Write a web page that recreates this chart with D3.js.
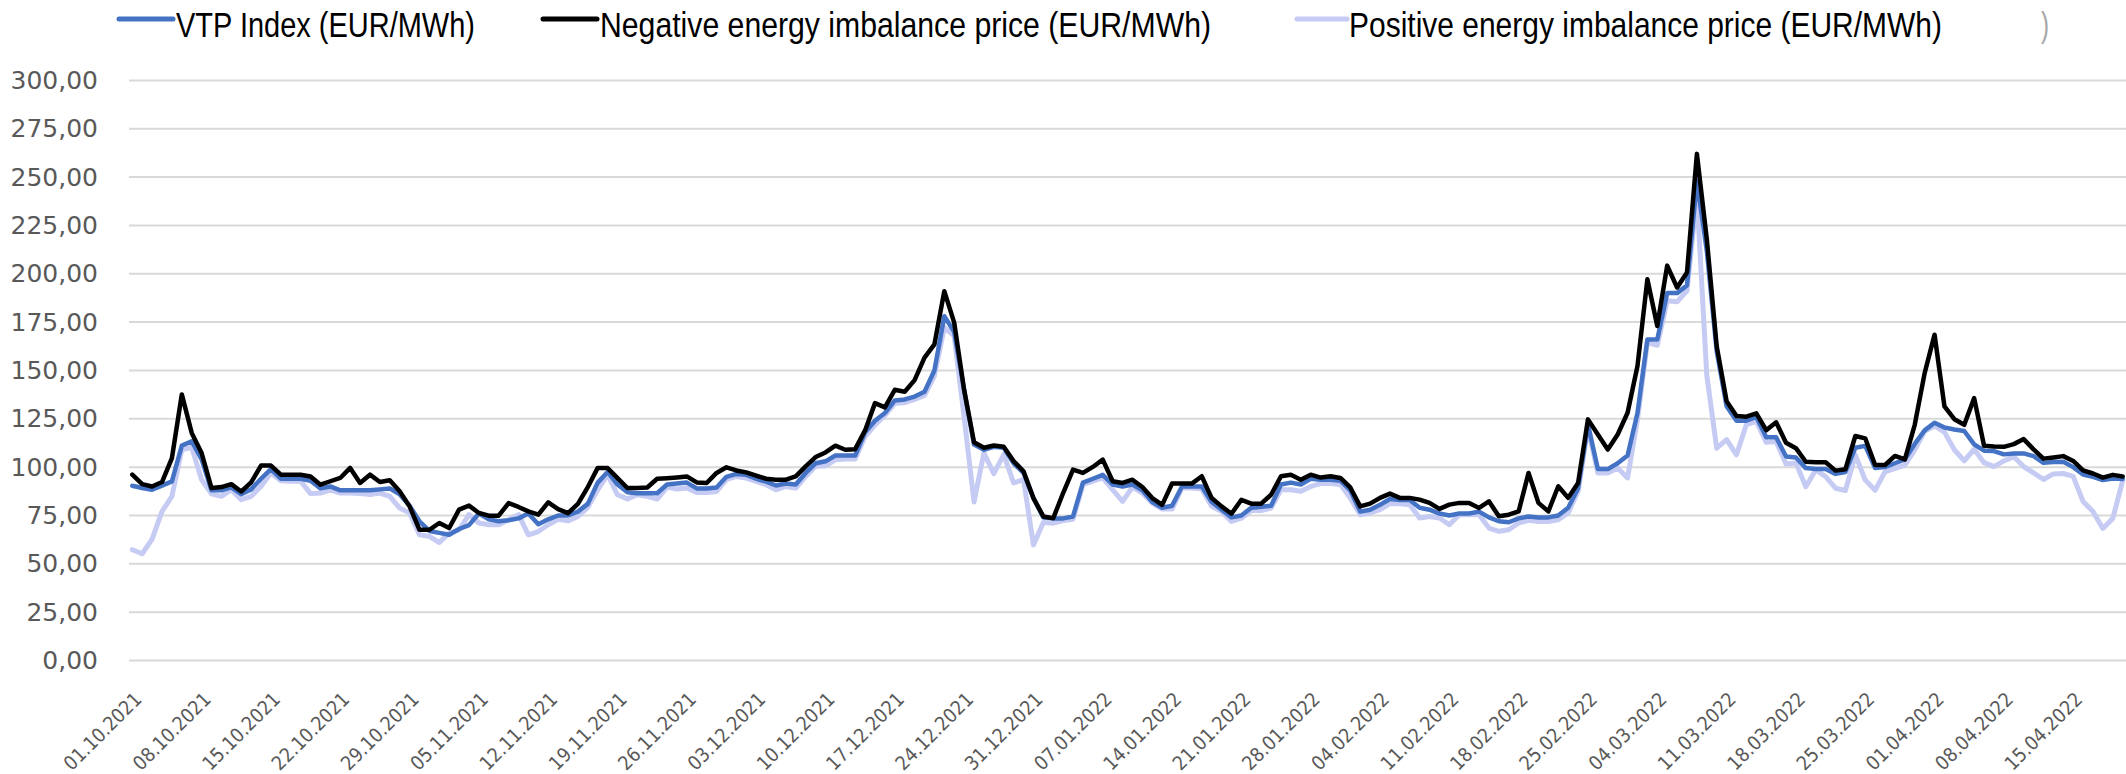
<!DOCTYPE html>
<html>
<head>
<meta charset="utf-8">
<script src="https://cdn.jsdelivr.net/npm/d3@7"></script>
<style>
  body { margin: 0; background: #fff; }
  svg { display: block; }
</style>
</head>
<body>
<svg id="chart" width="2126" height="774"></svg>
<script>
// daily values, 01.10.2021 .. 20.04.2022
const startDate = new Date(Date.UTC(2021, 9, 1));

const vtpIndex = [
  90.4, 89.2, 88.3, 90.4, 92.6, 111.1, 113.4, 104.0, 88.0, 88.0,
  89.5, 86.0, 88.5, 94.0, 99.0, 94.0, 94.0, 94.0, 93.0, 89.0,
  90.0, 88.0, 88.0, 88.0, 88.0, 88.5, 89.0, 86.0, 80.0, 72.0,
  67.0, 66.0, 65.0, 68.0, 70.0, 76.0, 73.0, 72.0, 72.5, 73.5,
  76.0, 70.5, 73.0, 75.0, 75.0, 77.0, 81.0, 92.0, 97.5, 91.0,
  87.0, 86.5, 86.5, 86.5, 91.0, 91.5, 92.0, 89.0, 89.0, 89.5,
  95.0, 96.5, 96.0, 94.0, 92.5, 90.5, 91.5, 91.0, 97.0, 102.0,
  103.0, 106.0, 106.0, 106.0, 118.0, 124.0, 128.0, 134.5, 135.0, 136.5,
  139.0, 150.0, 178.0, 170.0, 140.0, 111.7, 109.0, 110.5, 110.0, 102.0,
  97.0, 84.0, 74.0, 73.5, 73.5, 74.5, 92.0, 94.0, 96.0, 91.0,
  90.0, 91.0, 88.0, 82.0, 79.0, 80.0, 90.0, 90.0, 90.0, 82.0,
  78.0, 74.0, 75.0, 79.0, 79.5, 80.0, 91.0, 92.0, 91.0, 94.0,
  93.5, 93.5, 93.0, 88.0, 77.0, 78.0, 80.5, 83.5, 83.0, 83.0,
  79.0, 78.0, 76.0, 75.0, 76.0, 76.0, 77.0, 74.0, 72.0, 71.5,
  73.5, 74.5, 74.0, 74.0, 75.0, 79.0, 89.0, 122.0, 99.0, 99.0,
  102.0, 106.0, 128.0, 166.0, 166.0, 190.0, 190.0, 194.0, 248.0, 212.0,
  160.0, 131.5, 124.0, 124.0, 126.0, 115.5, 115.5, 105.5, 105.0, 99.5,
  99.0, 99.0, 96.5, 97.5, 110.0, 111.0, 99.5, 100.0, 102.0, 104.0,
  112.0, 119.0, 123.0, 120.5, 119.5, 118.7, 111.8, 108.5, 108.3, 106.6,
  107.1, 107.1, 105.7, 102.2, 102.6, 102.8, 100.0, 96.2, 95.0, 93.3,
  94.1, 93.9
];

const negativePrice = [
  96.1, 91.2, 90.0, 92.3, 104.7, 137.6, 117.7, 107.3, 89.2, 89.7,
  91.2, 87.4, 92.1, 100.8, 100.8, 96.1, 96.1, 96.1, 95.2, 90.9,
  92.7, 94.4, 99.6, 91.8, 96.1, 92.3, 93.2, 87.5, 79.7, 67.6,
  67.6, 71.1, 68.5, 78.0, 80.1, 76.3, 74.9, 74.9, 81.4, 79.4,
  77.1, 75.4, 81.8, 78.3, 76.2, 81.0, 89.7, 99.6, 99.5, 94.3,
  89.2, 89.2, 89.5, 94.0, 94.3, 94.7, 95.2, 92.1, 91.8, 97.0,
  99.9, 98.3, 97.3, 95.6, 94.0, 93.5, 93.5, 95.2, 100.4, 105.2,
  107.6, 111.1, 109.0, 109.3, 119.0, 133.1, 130.9, 140.0, 139.0, 145.0,
  156.6, 163.5, 191.0, 174.7, 140.0, 112.9, 110.0, 111.2, 110.5, 103.1,
  97.8, 84.0, 74.5, 73.6, 86.6, 98.7, 97.0, 100.1, 103.9, 92.7,
  91.8, 93.5, 89.7, 84.0, 80.5, 91.5, 91.5, 91.5, 95.3, 84.0,
  79.7, 75.9, 83.1, 81.1, 81.1, 85.7, 95.3, 96.1, 93.5, 96.1,
  94.6, 95.3, 94.4, 89.5, 79.7, 81.1, 84.1, 86.3, 84.1, 84.1,
  83.2, 81.5, 78.4, 80.6, 81.5, 81.5, 78.9, 82.3, 74.6, 75.4,
  77.1, 97.0, 81.5, 77.1, 90.1, 84.1, 91.8, 124.7, 116.9, 109.1,
  116.9, 128.1, 152.3, 197.2, 173.0, 204.2, 192.9, 200.7, 262.0, 218.0,
  162.6, 134.1, 126.5, 126.1, 127.8, 119.1, 123.2, 112.6, 109.8, 102.8,
  102.5, 102.5, 98.2, 98.9, 116.1, 114.9, 101.1, 101.1, 105.8, 104.0,
  121.9, 148.6, 168.5, 131.4, 124.8, 121.9, 135.7, 111.1, 110.7, 110.5,
  111.9, 114.5, 109.2, 104.4, 105.0, 105.7, 103.2, 98.3, 96.7, 94.6,
  96.0, 95.2
];

const positivePrice = [
  57.3, 55.2, 62.8, 77.1, 84.9, 109.0, 110.3, 93.5, 86.2, 84.9,
  88.3, 83.2, 84.9, 90.1, 97.0, 93.0, 92.7, 92.7, 86.3, 86.6,
  88.3, 86.6, 86.6, 86.3, 85.8, 86.6, 84.9, 78.8, 76.3, 65.0,
  64.2, 61.0, 65.9, 67.6, 75.4, 71.1, 70.2, 70.2, 72.8, 75.4,
  65.0, 66.7, 70.2, 73.0, 72.2, 74.5, 79.2, 88.3, 96.1, 85.7,
  83.5, 85.7, 84.9, 83.5, 89.7, 88.7, 89.2, 86.9, 86.9, 87.4,
  93.5, 95.2, 94.3, 92.6, 90.9, 88.3, 90.0, 89.2, 95.2, 100.4,
  100.7, 103.8, 104.2, 104.2, 115.8, 121.8, 126.7, 133.0, 133.3, 135.0,
  137.1, 147.2, 172.2, 167.9, 126.0, 82.0, 107.4, 96.6, 106.5, 91.8,
  93.5, 59.8, 71.4, 71.0, 72.4, 73.1, 90.9, 92.7, 94.4, 88.3,
  82.3, 89.7, 86.6, 81.4, 78.3, 78.3, 89.2, 89.2, 88.7, 79.7,
  77.1, 71.9, 73.6, 77.6, 77.6, 78.8, 88.3, 88.3, 87.5, 90.0,
  91.5, 91.5, 91.0, 84.0, 75.4, 76.3, 78.0, 81.1, 81.1, 80.6,
  73.7, 74.5, 73.7, 70.2, 75.4, 75.4, 75.4, 68.5, 66.8, 67.6,
  71.1, 72.5, 71.9, 71.9, 72.8, 76.3, 87.5, 120.3, 97.0, 97.0,
  99.6, 94.4, 124.7, 164.4, 163.0, 186.0, 185.5, 191.2, 240.4, 147.5,
  109.8, 114.2, 106.4, 122.0, 123.7, 112.8, 113.3, 101.6, 102.1, 89.9,
  98.5, 95.1, 89.1, 87.9, 106.3, 93.3, 88.1, 97.6, 99.4, 101.1,
  108.9, 118.5, 121.3, 118.1, 109.0, 103.2, 109.3, 102.3, 100.3, 103.2,
  105.4, 100.3, 97.0, 93.6, 96.5, 96.7, 95.2, 82.2, 77.0, 68.3,
  73.5, 93.0
];

const yTicks = [0, 25, 50, 75, 100, 125, 150, 175, 200, 225, 250, 275, 300];
const seriesNames = [
  "VTP Index (EUR/MWh)",
  "Negative energy imbalance price (EUR/MWh)",
  "Positive energy imbalance price (EUR/MWh)"
];

const dates = d3.utcDay.range(startDate, d3.utcDay.offset(startDate, vtpIndex.length));
// a label every 7 days, last one 15.04.2022
const xTicks = dates.filter((d, i) => i % 7 === 0);

const svg = d3.select("#chart");

const x = d3.scaleUtc()
  .domain([dates[0], dates[dates.length - 1]])
  .range([132.3, 2122.7]);

const y = d3.scaleLinear()
  .domain([0, 300])
  .range([660.5, 80.4]);

const locale = d3.formatLocale({ decimal: ",", thousands: ".", grouping: [3], currency: ["", " €"] });
const yFormat = locale.format(".2f");
const xFormat = d3.utcFormat("%d.%m.%Y");

// gridlines
svg.append("g")
  .selectAll("line")
  .data(yTicks)
  .join("line")
    .attr("x1", 129)
    .attr("x2", 2126)
    .attr("y1", d => y(d))
    .attr("y2", d => y(d))
    .attr("stroke", "#d9d9d9")
    .attr("stroke-width", 2);

// y axis labels
const axisLeft = d3.axisLeft(y)
  .tickValues(yTicks)
  .tickFormat(yFormat)
  .tickSize(0)
  .tickPadding(0);

svg.append("g")
  .attr("transform", "translate(98,0)")
  .call(axisLeft)
  .call(g => g.select(".domain").remove())
  .call(g => g.selectAll("text")
    .attr("fill", "#595959")
    .attr("font-family", "DejaVu Sans, Verdana, sans-serif")
    .attr("font-size", 25));

// x axis labels, rotated, condensed face
const axisBottom = d3.axisBottom(x)
  .tickValues(xTicks)
  .tickFormat(xFormat)
  .tickSize(0);

svg.append("g")
  .attr("transform", "translate(0,660.5)")
  .call(axisBottom)
  .call(g => g.select(".domain").remove())
  .call(g => g.selectAll("text")
    .attr("fill", "#595959")
    .attr("font-family", "DejaVu Sans Condensed, DejaVu Sans, sans-serif")
    .attr("font-stretch", "condensed")
    .attr("font-size", 19.5)
    .attr("text-anchor", "end")
    .attr("dy", null)
    .attr("y", null)
    .attr("transform", "translate(10,40) rotate(-45)"));

// series
const line = d3.line()
  .x((d, i) => x(dates[i]))
  .y(d => y(d));

const series = [
  { values: positivePrice, color: "#c5cbf3", width: 5 },
  { values: vtpIndex, color: "#4472c4", width: 4.5 },
  { values: negativePrice, color: "#000000", width: 4.5 }
];

svg.append("g")
  .selectAll("path")
  .data(series)
  .join("path")
    .attr("fill", "none")
    .attr("stroke", d => d.color)
    .attr("stroke-width", d => d.width)
    .attr("stroke-linejoin", "round")
    .attr("stroke-linecap", "round")
    .attr("d", d => line(d.values));

// legend (narrow face, squeezed to the widths in the picture)
const legendItems = [
  { name: seriesNames[0], color: "#4472c4", x1: 119, x2: 173, tx: 176, w: 299 },
  { name: seriesNames[1], color: "#000000", x1: 543, x2: 597, tx: 600, w: 611 },
  { name: seriesNames[2], color: "#c5cbf3", x1: 1297, x2: 1347, tx: 1349, w: 593 }
];

const legend = svg.append("g");
legend.selectAll("line")
  .data(legendItems)
  .join("line")
    .attr("x1", d => d.x1)
    .attr("x2", d => d.x2)
    .attr("y1", 19)
    .attr("y2", 19)
    .attr("stroke", d => d.color)
    .attr("stroke-width", 5)
    .attr("stroke-linecap", "round");

legend.selectAll("text")
  .data(legendItems)
  .join("text")
    .attr("x", d => d.tx)
    .attr("y", 37)
    .attr("font-family", "Liberation Sans, Arial, sans-serif")
    .attr("font-size", 35)
    .attr("textLength", d => d.w)
    .attr("lengthAdjust", "spacingAndGlyphs")
    .attr("fill", "#000")
    .text(d => d.name);

// cut-off remnant at the right edge
svg.append("text")
  .attr("x", 2041)
  .attr("y", 37)
  .attr("font-family", "Liberation Sans, Arial, sans-serif")
  .attr("font-size", 35)
  .attr("textLength", 8)
  .attr("lengthAdjust", "spacingAndGlyphs")
  .attr("fill", "#a6a6a6")
  .text(")");
</script>
</body>
</html>
